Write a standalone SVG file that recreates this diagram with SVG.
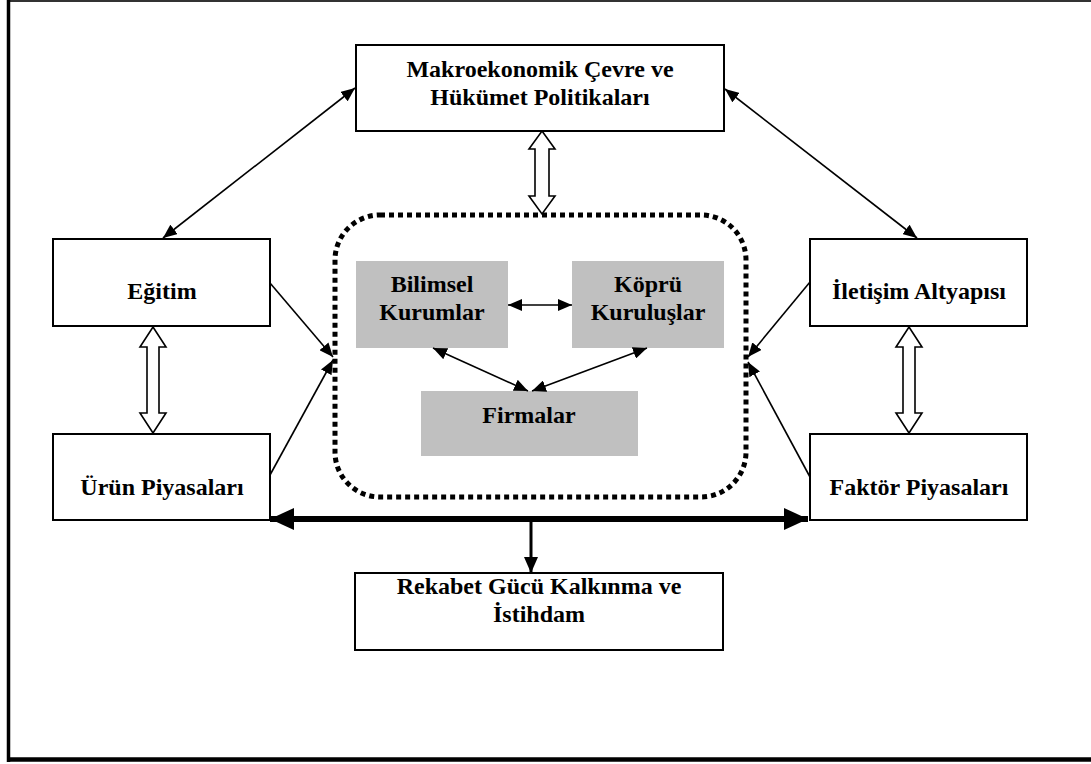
<svg xmlns="http://www.w3.org/2000/svg" width="1091" height="764" viewBox="0 0 1091 764">
  <style>
    .box { fill: #ffffff; stroke: #000000; stroke-width: 2; }
    .gray { fill: #c0c0c0; stroke: none; }
    .lbl { font-family: "Liberation Serif", "Times New Roman", serif; font-weight: bold; font-size: 24px; fill: #000000; text-anchor: middle; }
    .thin { stroke: #000000; stroke-width: 1.6; fill: none; }
    .hollow { fill: #ffffff; stroke: #000000; stroke-width: 1.6; stroke-linejoin: miter; }
  </style>
  <defs>
    <marker id="tip" markerUnits="userSpaceOnUse" viewBox="0 0 14 12" refX="14" refY="6" markerWidth="14" markerHeight="12" orient="auto-start-reverse">
      <path d="M0,0 L14,6 L0,12 Z" fill="#000000"/>
    </marker>
    <marker id="bigtip" markerUnits="userSpaceOnUse" viewBox="0 0 24 22" refX="24" refY="11" markerWidth="24" markerHeight="22" orient="auto-start-reverse">
      <path d="M0,0 L24,11 L0,22 Z" fill="#000000"/>
    </marker>
    <marker id="midtip" markerUnits="userSpaceOnUse" viewBox="0 0 16 14" refX="16" refY="7" markerWidth="16" markerHeight="14" orient="auto">
      <path d="M0,0 L16,7 L0,14 Z" fill="#000000"/>
    </marker>
  </defs>

  <!-- page frame -->
  <g id="frame">
    <line x1="7" y1="1" x2="1091" y2="1" stroke="#333333" stroke-width="2"/>
    <line x1="8.5" y1="0" x2="8.5" y2="762" stroke="#000000" stroke-width="3.5"/>
    <line x1="7" y1="759.5" x2="1091" y2="759.5" stroke="#000000" stroke-width="4.5"/>
  </g>

  <!-- innovation system boundary -->
  <rect id="system-boundary" x="335" y="215" width="411" height="282" rx="45" ry="45" fill="none" stroke="#000000" stroke-width="5" stroke-dasharray="5 4"/>

  <g id="makro">
    <rect class="box" x="356" y="45" width="368" height="86"/>
    <text class="lbl" x="540" y="77">Makroekonomik Çevre ve</text>
    <text class="lbl" x="540" y="105">Hükümet Politikaları</text>
  </g>

  <g id="egitim">
    <rect class="box" x="53" y="239" width="217" height="87"/>
    <text class="lbl" x="162" y="299">Eğitim</text>
  </g>

  <g id="urun-piyasalari">
    <rect class="box" x="53" y="434" width="217" height="86"/>
    <text class="lbl" x="162" y="495">Ürün Piyasaları</text>
  </g>

  <g id="iletisim">
    <rect class="box" x="810" y="239" width="217" height="87"/>
    <text class="lbl" x="919" y="299">İletişim Altyapısı</text>
  </g>

  <g id="faktor-piyasalari">
    <rect class="box" x="810" y="434" width="217" height="86"/>
    <text class="lbl" x="919" y="495">Faktör Piyasaları</text>
  </g>

  <g id="bilimsel">
    <rect class="gray" x="356" y="261" width="152" height="87"/>
    <text class="lbl" x="432" y="292">Bilimsel</text>
    <text class="lbl" x="432" y="320">Kurumlar</text>
  </g>

  <g id="kopru">
    <rect class="gray" x="572" y="261" width="152" height="87"/>
    <text class="lbl" x="648" y="292">Köprü</text>
    <text class="lbl" x="648" y="320">Kuruluşlar</text>
  </g>

  <g id="firmalar">
    <rect class="gray" x="421" y="391" width="217" height="65"/>
    <text class="lbl" x="529" y="423">Firmalar</text>
  </g>

  <g id="rekabet">
    <rect class="box" x="355" y="573" width="368" height="77"/>
    <text class="lbl" x="539" y="594">Rekabet Gücü Kalkınma ve</text>
    <text class="lbl" x="539" y="622">İstihdam</text>
  </g>

  <g id="connectors">
    <!-- two-way links from the policy box -->
    <line class="thin" x1="355" y1="88" x2="163" y2="238" marker-start="url(#tip)" marker-end="url(#tip)"/>
    <line class="thin" x1="725" y1="89" x2="917" y2="238" marker-start="url(#tip)" marker-end="url(#tip)"/>

    <!-- hollow two-way arrows -->
    <polygon class="hollow" points="542,131 555,149 549,149 549,196 555,196 542,214 529,196 535,196 535,149 529,149"/>
    <polygon class="hollow" points="153,327 166,347 159,347 159,413 166,413 153,433 140,413 147,413 147,347 140,347"/>
    <polygon class="hollow" points="909,327 922,347 915,347 915,413 922,413 909,433 896,413 903,413 903,347 896,347"/>

    <!-- inputs into the system boundary -->
    <line class="thin" x1="270" y1="283" x2="333" y2="357" marker-end="url(#tip)"/>
    <line class="thin" x1="270" y1="475" x2="333" y2="360" marker-end="url(#tip)"/>
    <line class="thin" x1="810" y1="282" x2="748" y2="357" marker-end="url(#tip)"/>
    <line class="thin" x1="810" y1="477" x2="748" y2="362" marker-end="url(#tip)"/>

    <!-- links inside the system -->
    <line class="thin" x1="508" y1="305" x2="572" y2="305" marker-start="url(#tip)" marker-end="url(#tip)"/>
    <line class="thin" x1="433" y1="348" x2="528" y2="391" marker-start="url(#tip)" marker-end="url(#tip)"/>
    <line class="thin" x1="647" y1="348" x2="532" y2="391" marker-start="url(#tip)" marker-end="url(#tip)"/>

    <!-- market axis and outcome -->
    <line x1="270" y1="519" x2="808" y2="519" stroke="#000000" stroke-width="6" marker-start="url(#bigtip)" marker-end="url(#bigtip)"/>
    <line x1="531" y1="519" x2="531" y2="573" stroke="#000000" stroke-width="3" marker-end="url(#midtip)"/>
  </g>
</svg>
